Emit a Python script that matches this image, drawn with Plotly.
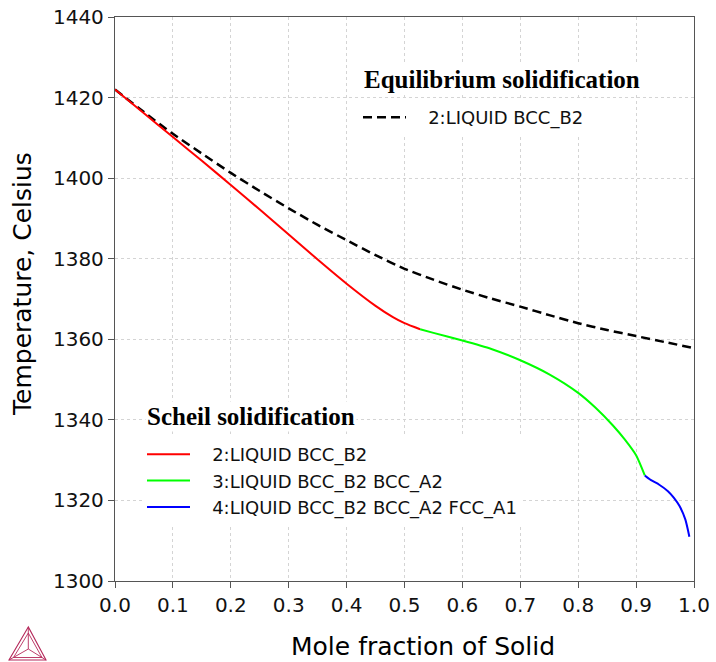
import plotly.graph_objects as go

# ---------------- data ----------------
x_eq = [0, 0.05, 0.1, 0.15, 0.2, 0.25, 0.3, 0.35, 0.4, 0.45, 0.5, 0.55, 0.6, 0.65,
        0.7, 0.75, 0.8, 0.85, 0.9, 0.95, 1.0]
t_eq = [1422, 1416.4, 1411, 1406.1, 1401.3, 1396.8, 1392.5, 1388.4, 1384.6, 1380.9,
        1377.5, 1374.8, 1372.3, 1370.1, 1368.1, 1366, 1364, 1362.3, 1360.8, 1359.3, 1357.8]

x_s2 = [0, 0.05, 0.1, 0.15, 0.2, 0.25, 0.3, 0.35, 0.4, 0.45, 0.48, 0.5, 0.527]
t_s2 = [1422, 1416.1, 1410.2, 1404.3, 1398.3, 1392.2, 1386.0, 1379.8, 1373.8, 1368.3,
        1365.5, 1364.0, 1362.5]

x_s3 = [0.527, 0.55, 0.6, 0.65, 0.7, 0.75, 0.8, 0.83, 0.86, 0.88, 0.9, 0.915]
t_s3 = [1362.5, 1361.6, 1359.7, 1357.6, 1354.8, 1351.3, 1346.7, 1343, 1338.6, 1335.2,
        1331.2, 1326.2]

x_s4 = [0.915, 0.925, 0.94, 0.955, 0.965, 0.975, 0.985, 0.992]
t_s4 = [1326.2, 1325.1, 1323.9, 1322.3, 1320.7, 1318.6, 1315.3, 1311]

x_ticks = [0.0, 0.1, 0.2, 0.3, 0.4, 0.5, 0.6, 0.7, 0.8, 0.9, 1.0]
y_ticks = [1300, 1320, 1340, 1360, 1380, 1400, 1420, 1440]

eq_title = "Equilibrium solidification"
scheil_title = "Scheil solidification"
eq_names = ["2:LIQUID BCC_B2"]
scheil_names = ["2:LIQUID BCC_B2", "3:LIQUID BCC_B2 BCC_A2", "4:LIQUID BCC_B2 BCC_A2 FCC_A1"]

# ---------------- layout constants ----------------
OFF = 0                      # page body margin (set to 0 via post_script)
W, H = 716 - OFF, 662 - OFF
ML, MR, MT, MB = 115 - OFF, 22, 17 - OFF, 81
PW, PH = W - ML - MR, H - MT - MB


def px(xs, ys):
    """screen pixel -> paper coordinates"""
    xf, yf = xs - OFF, ys - OFF
    return (xf - ML) / PW, 1 - (yf - MT) / PH


FONT = "DejaVu Sans, Verdana, sans-serif"
SERIF = "Liberation Serif, Times New Roman, serif"
GAP = "\u00a0\u00a0\u00a0"

fig = go.Figure()
fig.add_trace(go.Scatter(x=x_eq, y=t_eq, mode="lines", name=GAP + eq_names[0],
                         line=dict(color="black", width=2.5, dash="9px,5px", shape="spline", smoothing=0.6),
                         legend="legend"))
for xs, ts, nm, col in [(x_s2, t_s2, scheil_names[0], "#ff0000"),
                        (x_s3, t_s3, scheil_names[1], "#00ff00"),
                        (x_s4, t_s4, scheil_names[2], "#0000ff")]:
    fig.add_trace(go.Scatter(x=xs, y=ts, mode="lines", name=GAP + nm,
                             line=dict(color=col, width=2, shape="spline", smoothing=0.6),
                             legend="legend2"))

axis_common = dict(showline=True, linecolor="#555555", linewidth=1.3, mirror=True,
                   ticks="outside", ticklen=6, tickcolor="#555555", tickwidth=1.3,
                   showgrid=True, gridcolor="#d4d4d4", griddash="dot", gridwidth=1,
                   zeroline=False, ticklabeloverflow="allow",
                   tickfont=dict(family=FONT, size=20, color="#111111"))

fig.update_xaxes(range=[0, 1], tickvals=x_ticks, ticktext=[f"{v:.1f}" for v in x_ticks], **axis_common)
fig.update_yaxes(range=[1300, 1440], tickvals=y_ticks, **axis_common)

lx1, ly1 = px(358, 99)
lx2, ly2 = px(142, 436)

# logo shapes (Thermo-Calc style triangle)
logo_col = "#b5285a"
A, B, C = (28.3, 627), (9, 660), (46, 660)
A2, B2, C2 = (28.3, 633), (13.5, 657.5), (42, 657.5)
O = (28.3, 649)


def path(pts, close=True):
    s = ""
    for i, (a, b) in enumerate(pts):
        xp, yp = px(a, b)
        s += ("M" if i == 0 else "L") + f"{xp:.5f},{yp:.5f} "
    return s + ("Z" if close else "")


shapes = [
    dict(type="path", xref="paper", yref="paper", path=path([A, B, C]), line=dict(color=logo_col, width=1.1)),
    dict(type="path", xref="paper", yref="paper", path=path([A2, B2, C2]), line=dict(color=logo_col, width=0.9)),
    dict(type="path", xref="paper", yref="paper", path=path([A, O], False), line=dict(color=logo_col, width=0.9)),
    dict(type="path", xref="paper", yref="paper", path=path([B, O], False), line=dict(color=logo_col, width=0.9)),
    dict(type="path", xref="paper", yref="paper", path=path([C, O], False), line=dict(color=logo_col, width=0.9)),
]

ytx, yty = px(23, 284)
xtx, xty = px(423, 646)
t1x, t1y = px(362, 80)
t2x, t2y = px(145, 416)

fig.update_layout(
    width=W, height=H,
    margin=dict(l=ML, r=MR, t=MT, b=MB, autoexpand=False),
    paper_bgcolor="white", plot_bgcolor="white",
    showlegend=True,
    legend=dict(x=lx1, y=ly1, xanchor="left", yanchor="top", bgcolor="white",
                font=dict(family=FONT, size=18, color="#111111"), itemwidth=43,
                tracegroupgap=0),
    legend2=dict(x=lx2, y=ly2, xanchor="left", yanchor="top", bgcolor="white",
                 font=dict(family=FONT, size=18, color="#111111"), itemwidth=43,
                 tracegroupgap=0),
    shapes=shapes,
    annotations=[
        dict(text="Temperature, Celsius", x=ytx, y=yty, xref="paper", yref="paper",
             textangle=-90, showarrow=False, xanchor="center", yanchor="middle",
             font=dict(family=FONT, size=25, color="black")),
        dict(text="Mole fraction of Solid", x=xtx, y=xty, xref="paper", yref="paper",
             showarrow=False, xanchor="center", yanchor="middle",
             font=dict(family=FONT, size=25, color="black")),
        dict(text=f"<b>{eq_title}</b>", x=t1x, y=t1y, xref="paper", yref="paper",
             showarrow=False, xanchor="left", yanchor="middle", bgcolor="white",
             font=dict(family=SERIF, size=25, color="black")),
        dict(text=f"<b>{scheil_title}</b>", x=t2x, y=t2y, xref="paper", yref="paper",
             showarrow=False, xanchor="left", yanchor="middle", bgcolor="white",
             font=dict(family=SERIF, size=25, color="black")),
    ],
)

fig.write_html("out.html", config={"displayModeBar": False},
               post_script="document.body.style.margin='0';")
